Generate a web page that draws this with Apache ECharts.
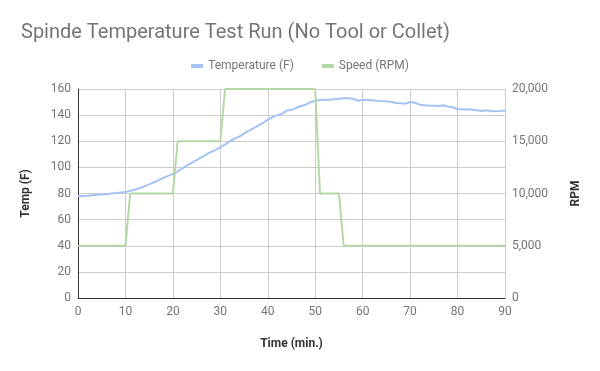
<!DOCTYPE html>
<html><head><meta charset="utf-8">
<script src="https://cdn.jsdelivr.net/npm/echarts@6/dist/echarts.min.js"></script>
<style>html,body{margin:0;padding:0;background:#fff}#c{width:600px;height:371px}</style>
</head><body><div id="c"></div>
<script>
const minutes = [0,1,2,3,4,5,6,7,8,9,10,11,12,13,14,15,16,17,18,19,20,21,22,23,24,25,26,27,28,29,30,31,32,33,34,35,36,37,38,39,40,41,42,43,44,45,46,47,48,49,50,51,52,53,54,55,56,57,58,59,60,61,62,63,64,65,66,67,68,69,70,71,72,73,74,75,76,77,78,79,80,81,82,83,84,85,86,87,88,89,90];
const temperatures = [78,78,78.3,78.7,79,79.2,79.5,80,80.3,80.7,81.2,82,83,84.2,85.5,87,88.6,90.2,92,93.5,95,97,99.2,101.5,103.6,105.5,107.7,109.8,111.8,113.4,115.3,117.5,120,122,123.5,126,128,130,132,134,136.5,138.5,140,141,143.5,144,145.5,147,148,150,150.8,151.5,151.7,151.8,152.2,152.6,153,153,152.5,151,151.7,151.5,151.3,151,150.8,150.7,150,149.3,149,148.8,150,149.5,148,147.6,147.3,147.2,147,147.5,146.5,146,144.5,144.5,144.4,144.3,143.8,143.2,143.7,143.2,143,143.2,143.5];
const speedTimes = [0,10,11,20,21,30,31,50,51,55,56,90];
const speeds = [5000,5000,10000,10000,15000,15000,20000,20000,10000,10000,5000,5000];
const xTicks = [0,10,20,30,40,50,60,70,80,90];

const font = 'Roboto';
const gray = '#757575';
const chart = echarts.init(document.getElementById('c'));
chart.setOption({
  animation: false,
  textStyle: {fontFamily: font},
  title: {text: 'Spinde Temperature Test Run (No Tool or Collet)', left: 16, top: 18,
    textStyle: {fontFamily: font, fontSize: 20, fontWeight: 'normal', color: gray}},
  legend: {top: 55, left: 'center', itemWidth: 12, itemHeight: 4, itemGap: 28, icon: 'rect',
    textStyle: {fontFamily: font, fontSize: 12, color: gray},
    data: ['Temperature (F)', 'Speed (RPM)']},
  grid: {left: 78, right: 95, top: 89, bottom: 73},
  xAxis: {type: 'value', min: 0, max: 90, interval: 10,
    name: 'Time (min.)', nameLocation: 'middle', nameGap: 40,
    nameTextStyle: {fontFamily: font, fontSize: 12, fontWeight: 'bold', color: '#333'},
    axisLine: {lineStyle: {color: '#333', width: 1}}, axisTick: {show: false},
    axisLabel: {color: gray, fontSize: 12, margin: 8, formatter: v => xTicks.includes(v) ? String(v) : ''},
    splitLine: {show: true, lineStyle: {color: '#ccc'}}},
  yAxis: [
    {type: 'value', min: 0, max: 160, interval: 20, name: 'Temp (F)', nameLocation: 'middle', nameGap: 46, nameRotate: 90,
     nameTextStyle: {fontFamily: font, fontSize: 12, fontWeight: 'bold', color: '#333'},
     axisLine: {show: true, lineStyle: {color: '#333', width: 1}}, axisTick: {show: false},
     axisLabel: {color: gray, fontSize: 12, margin: 7},
     splitLine: {lineStyle: {color: '#ccc'}}},
    {type: 'value', min: 0, max: 20000, interval: 5000, name: 'RPM', nameLocation: 'middle', nameGap: 65, nameRotate: 90,
     nameTextStyle: {fontFamily: font, fontSize: 12, fontWeight: 'bold', color: '#333'},
     axisLine: {show: false}, axisTick: {show: false},
     axisLabel: {color: gray, fontSize: 12, margin: 7, formatter: v => v.toLocaleString('en-US')},
     splitLine: {show: false}}
  ],
  series: [
    {name: 'Temperature (F)', type: 'line', yAxisIndex: 0, showSymbol: false, symbol: 'none',
     color: '#a4c2f4', lineStyle: {width: 2, color: '#a4c2f4'},
     data: minutes.map((m, i) => [m, temperatures[i]])},
    {name: 'Speed (RPM)', type: 'line', yAxisIndex: 1, showSymbol: false, symbol: 'none',
     color: '#b6d7a8', lineStyle: {width: 2, color: '#b6d7a8'},
     data: speedTimes.map((t, i) => [t, speeds[i]])}
  ]
});
</script></body></html>
